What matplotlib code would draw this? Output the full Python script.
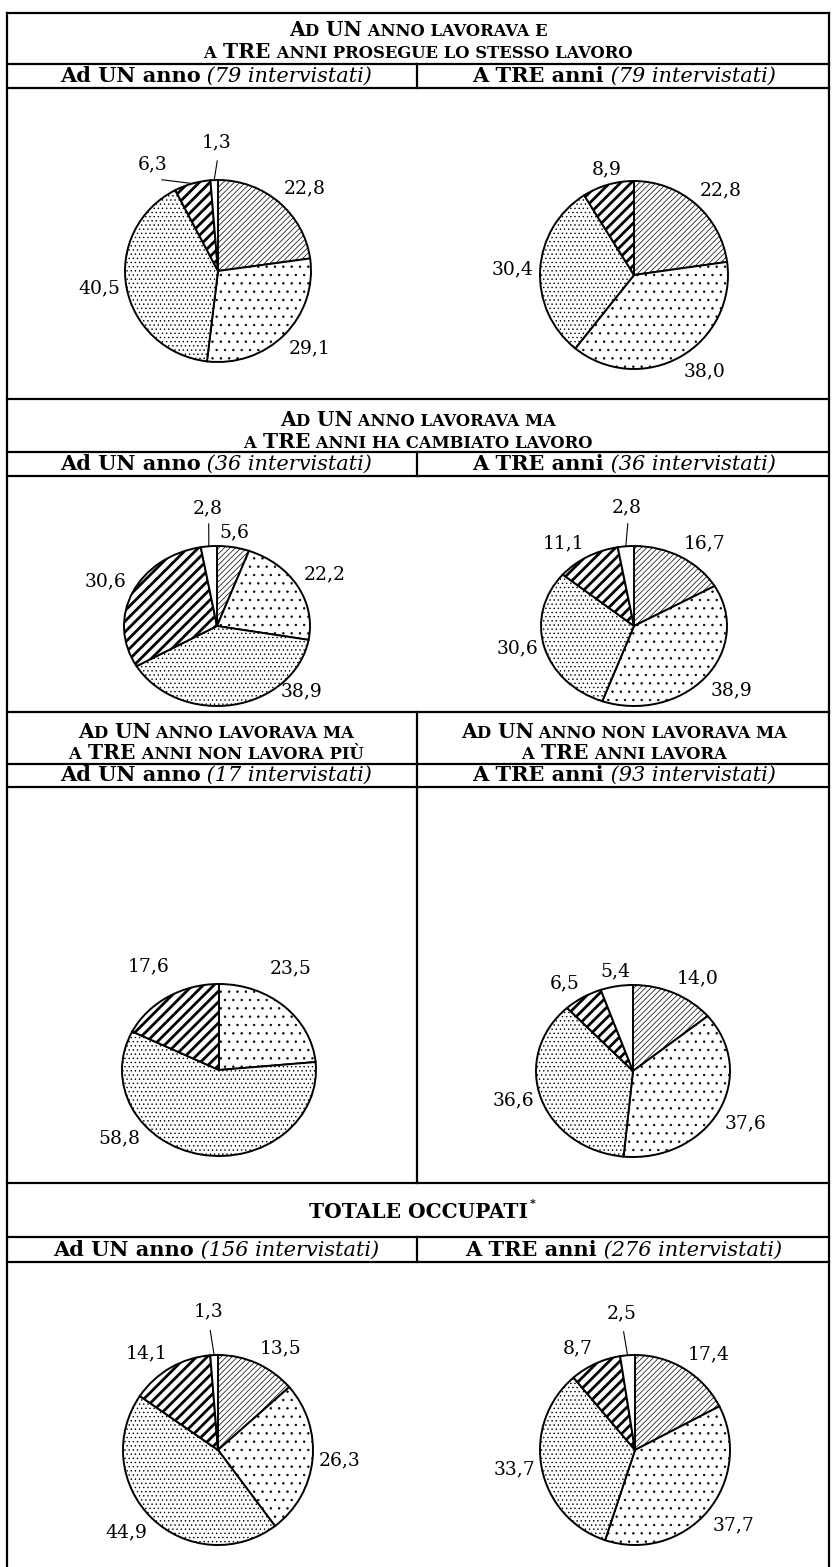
import numpy as np
import matplotlib
matplotlib.use("Agg")
import matplotlib.pyplot as plt
from matplotlib.lines import Line2D

# ---------------------------
# DATA (percent, clockwise from 12 o'clock)
# slice order: fine hatch, sparse dots, dense dots, bold stripes, white
# ---------------------------
r1_un = [22.8, 29.1, 40.5, 6.3, 1.3]
r1_tre = [22.8, 38.0, 30.4, 8.9, 0.0]
r2_un = [5.6, 22.2, 38.9, 30.6, 2.8]
r2_tre = [16.7, 38.9, 30.6, 11.1, 2.8]
r3_un = [0.0, 23.5, 58.8, 17.6, 0.0]
r3_tre = [14.0, 37.6, 36.6, 6.5, 5.4]
tot_un = [13.5, 26.3, 44.9, 14.1, 1.3]
tot_tre = [17.4, 37.7, 33.7, 8.7, 2.5]

n_un = [79, 36, 17, 156]
n_tre = [79, 36, 93, 276]

W, H = 833, 1567
SERIF = "DejaVu Serif"
BIG, SMALL = 14.5, 11.8
SUB = 15
LAB = 13.5

plt.rcParams["hatch.linewidth"] = 0.5
plt.rcParams["font.family"] = SERIF

fig = plt.figure(figsize=(W / 100, H / 100), dpi=100)
bg = fig.add_axes([0, 0, 1, 1])
bg.set_xlim(0, W)
bg.set_ylim(H, 0)
bg.axis("off")
renderer = fig.canvas.get_renderer()

# ---------------------------
# table grid
# ---------------------------
L, R, MID = 7, 829, 417
LW = 1.6
for y in [13, 64, 88, 399, 452, 476, 712, 764, 787, 1183, 1237, 1262]:
    bg.plot([L, R], [y, y], color="black", lw=LW, solid_capstyle="projecting")
bg.plot([L, L], [13, H], color="black", lw=LW)
bg.plot([R, R], [13, H], color="black", lw=LW)
for y0, y1 in [(64, 88), (452, 476), (712, 1183), (1237, 1262)]:
    bg.plot([MID, MID], [y0, y1], color="black", lw=LW)


def rich_line(xc, y, pieces):
    # pieces: (text, size, weight, style); laid out left to right, centred on xc
    texts = []
    for s, size, weight, style in pieces:
        t = bg.text(0, y, s, fontsize=size, fontweight=weight, fontstyle=style,
                    ha="left", va="baseline")
        texts.append(t)
    widths = [t.get_window_extent(renderer).width for t in texts]
    x = xc - sum(widths) / 2
    for t, w in zip(texts, widths):
        t.set_x(x)
        x += w
    return texts


def caps_title(xc, y, words):
    # words: list of (text, big?)
    rich_line(xc, y, [(s, BIG if b else SMALL, "bold", "normal") for s, b in words])


def subheader(xc, y, lead, n):
    rich_line(xc, y, [(lead, SUB, "bold", "normal"),
                      (f" ({n} intervistati)", SUB, "normal", "italic")])


XL, XR, XC = 216, 624, 418

# row 1
caps_title(XC, 36, [("A", True), ("D", False), (" UN", True), (" ANNO LAVORAVA E", False)])
caps_title(XC, 58, [("A", False), (" TRE", True), (" ANNI PROSEGUE LO STESSO LAVORO", False)])
subheader(XL, 82, "Ad UN anno", n_un[0])
subheader(XR, 82, "A TRE anni", n_tre[0])
# row 2
caps_title(XC, 426, [("A", True), ("D", False), (" UN", True), (" ANNO LAVORAVA MA", False)])
caps_title(XC, 448, [("A", False), (" TRE", True), (" ANNI HA CAMBIATO LAVORO", False)])
subheader(XL, 470, "Ad UN anno", n_un[1])
subheader(XR, 470, "A TRE anni", n_tre[1])
# row 3
caps_title(XL, 738, [("A", True), ("D", False), (" UN", True), (" ANNO LAVORAVA MA", False)])
caps_title(XL, 759, [("A", False), (" TRE", True), (" ANNI NON LAVORA PIÙ", False)])
caps_title(XR, 738, [("A", True), ("D", False), (" UN", True), (" ANNO NON LAVORAVA MA", False)])
caps_title(XR, 759, [("A", False), (" TRE", True), (" ANNI LAVORA", False)])
subheader(XL, 781, "Ad UN anno", n_un[2])
subheader(XR, 781, "A TRE anni", n_tre[2])
# row 4
tt = rich_line(XC, 1218, [("TOTALE OCCUPATI", BIG, "bold", "normal")])[0]
ext = tt.get_window_extent(renderer)
bg.text(ext.x1 + 2, 1207, "*", fontsize=8, fontweight="bold", ha="left", va="baseline")
subheader(XL, 1256, "Ad UN anno", n_un[3])
subheader(XR, 1256, "A TRE anni", n_tre[3])

# ---------------------------
# pies
# ---------------------------
HATCH = ["//////", "..", "....", None, None]


def stripes(ax, wedge, rx, ry, gap=7.5, ang=45, lw=2.0):
    d = np.array([np.cos(np.radians(ang)), np.sin(np.radians(ang))])
    nrm = np.array([-d[1], d[0]])
    span = max(rx, ry) * 1.2
    for k in np.arange(-span, span, gap):
        p0 = nrm * k - d * span
        p1 = nrm * k + d * span
        ln = Line2D([p0[0] / rx, p1[0] / rx], [p0[1] / ry, p1[1] / ry],
                    color="black", lw=lw)
        ax.add_line(ln)
        ln.set_clip_path(wedge)


def draw_pie(cx, cy, rx, ry, values, moved=None):
    # moved: {slice: (angle, distance, leader?)} for labels Excel pulled out
    moved = moved or {}
    ax = fig.add_axes([(cx - rx) / W, 1 - (cy + ry) / H, 2 * rx / W, 2 * ry / H])
    cats = [i for i, v in enumerate(values) if v > 0]
    vals = [values[i] for i in cats]
    wedges, _ = ax.pie(vals, startangle=90, counterclock=False, colors=["white"] * len(vals),
                       wedgeprops=dict(edgecolor="black", linewidth=1.4))
    for w, c, v in zip(wedges, cats, vals):
        w.set_clip_on(False)
        if HATCH[c]:
            w.set_hatch(HATCH[c])
        if c == 3:
            stripes(ax, w, rx, ry)
        mid = np.radians((w.theta1 + w.theta2) / 2)
        cs, sn = np.cos(mid), np.sin(mid)
        lab = f"{v:.1f}".replace(".", ",")
        if c in moved:
            ang, dist, leader = moved[c]
            a = np.radians(ang)
            lx, ly = dist * np.cos(a), dist * np.sin(a)
            if leader:
                tx, ty = (dist - 0.2) * np.cos(a), (dist - 0.2) * np.sin(a)
                ax.plot([cs, tx], [sn, ty], color="black", lw=0.8, clip_on=False)
            ax.text(lx, ly, lab, fontsize=LAB, ha="center", va="center")
        else:
            ha = "left" if cs > 0.35 else ("right" if cs < -0.35 else "center")
            va = "bottom" if sn > 0.35 else ("top" if sn < -0.35 else "center")
            ax.text(1.07 * cs, 1.07 * sn, lab, fontsize=LAB, ha=ha, va=va)
    ax.set_xlim(-1, 1)
    ax.set_ylim(-1, 1)
    ax.set_aspect("auto")
    ax.axis("off")


draw_pie(218, 271, 93, 91, r1_un, moved={3: (121, 1.37, True), 4: (90.4, 1.41, True)})
draw_pie(634, 275, 94, 94, r1_tre)
draw_pie(217, 626, 93, 80, r2_un, moved={2: (-42, 1.22, False), 4: (94, 1.48, True)})
draw_pie(634, 626, 93, 80, r2_tre, moved={4: (93, 1.48, True)})
draw_pie(219, 1070, 97, 86, r3_un, moved={2: (-142, 1.3, False), 3: (121, 1.4, False),
                                          1: (58, 1.4, False)})
draw_pie(633, 1071, 97, 86, r3_tre)
draw_pie(218, 1450, 95, 95, tot_un, moved={4: (93.7, 1.46, True)})
draw_pie(635, 1450, 95, 95, tot_tre, moved={4: (95.5, 1.45, True)})

fig.savefig("out.png", dpi=100)
